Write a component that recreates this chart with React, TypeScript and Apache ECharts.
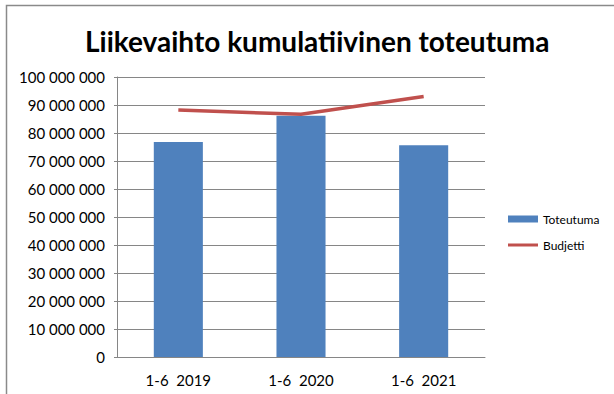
import React, { useEffect, useRef } from "react";
import * as echarts from "echarts";

const categories = ["1-6  2019", "1-6  2020", "1-6  2021"];
const toteutuma = [76800000, 86200000, 75600000];
const budjetti = [88200000, 86700000, 93000000];
const yTicks = [0, 10000000, 20000000, 30000000, 40000000, 50000000, 60000000, 70000000, 80000000, 90000000, 100000000];

const fmt = (v: number) => String(v).replace(/\B(?=(\d{3})+(?!\d))/g, " ");

export default function App() {
  const ref = useRef<HTMLDivElement>(null);
  useEffect(() => {
    if (!ref.current) return;
    const chart = echarts.init(ref.current, null, { renderer: "svg" });
    const font = "Lato, 'Open Sans', sans-serif";
    chart.setOption({
      animation: false,
      backgroundColor: "#ffffff",
      textStyle: { fontFamily: font },
      title: {
        text: "Liikevaihto kumulatiivinen toteutuma",
        left: 80,
        top: 22,
        textStyle: { fontSize: 28, fontWeight: "bold", color: "#000", fontFamily: font },
      },
      graphic: [
        {
          type: "polyline",
          shape: { points: [[6.5, 394], [6.5, 5.5], [614, 5.5]] },
          style: { stroke: "#8a8a8a", lineWidth: 1.5, fill: "none" },
          silent: true,
        },
      ],
      legend: {
        orient: "vertical",
        left: 503,
        top: 208,
        itemGap: 14,
        itemWidth: 30,
        itemHeight: 7,
        textStyle: { fontSize: 12, color: "#000", fontFamily: font },
        data: [
          { name: "Toteutuma", icon: "rect" },
          { name: "Budjetti", icon: "path://M0,0 L30,0 L30,3 L0,3 Z" },
        ],
      },
      grid: { left: 117, right: 129, top: 77, bottom: 37, containLabel: false },
      xAxis: {
        type: "category",
        data: categories,
        axisLine: { lineStyle: { color: "#868686" } },
        axisTick: { show: false },
        axisLabel: { fontSize: 15, color: "#000", margin: 15 },
      },
      yAxis: {
        type: "value",
        min: yTicks[0],
        max: yTicks[yTicks.length - 1],
        interval: 10000000,
        axisLine: { show: true, lineStyle: { color: "#868686" } },
        axisTick: { show: true, length: 3, lineStyle: { color: "#868686" } },
        splitLine: { lineStyle: { color: "#868686" } },
        axisLabel: { fontSize: 15, color: "#000", margin: 12, formatter: (v: number) => fmt(v) },
      },
      series: [
        {
          name: "Toteutuma",
          type: "bar",
          data: toteutuma,
          barWidth: "40%",
          itemStyle: { color: "#4F81BD" },
        },
        {
          name: "Budjetti",
          type: "line",
          data: budjetti,
          symbol: "none",
          lineStyle: { color: "#C0504D", width: 3.5 },
          itemStyle: { color: "#C0504D" },
        },
      ],
    });
    return () => chart.dispose();
  }, []);
  return (
    <div
      ref={ref}
      style={{ width: 614, height: 394, position: "fixed", left: 0, top: 0 }}
    />
  );
}
